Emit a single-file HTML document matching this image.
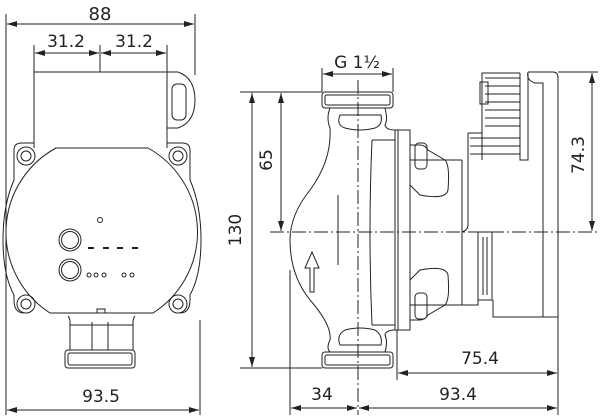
<!DOCTYPE html>
<html><head><meta charset="utf-8"><style>
html,body{margin:0;padding:0;background:#fff;}
svg{display:block}
text{font-family:"DejaVu Sans","Liberation Sans",sans-serif;font-size:17px;fill:#222}
</style></head><body>
<svg width="600" height="417" viewBox="0 0 600 417" xmlns="http://www.w3.org/2000/svg">
<defs>
<marker id="a" viewBox="0 0 10 6" refX="10" refY="3" markerWidth="10" markerHeight="6" orient="auto-start-reverse" markerUnits="userSpaceOnUse"><path d="M0,0 L10,3 L0,6 z" fill="#222"/></marker>
</defs>
<g stroke="#222" stroke-width="1" fill="none">
<!-- LEFT VIEW dims -->
<line x1="6" y1="14" x2="6" y2="415"/>
<line x1="195" y1="14" x2="195" y2="75"/>
<line x1="200" y1="320" x2="200" y2="415"/>
<line x1="7" y1="24" x2="194" y2="24" marker-start="url(#a)" marker-end="url(#a)"/>
<line x1="34" y1="45" x2="34" y2="80"/>
<line x1="167" y1="45" x2="167" y2="80"/>
<line x1="100" y1="45" x2="100" y2="72"/>
<line x1="35" y1="53" x2="99" y2="53" marker-start="url(#a)" marker-end="url(#a)"/>
<line x1="101" y1="53" x2="166" y2="53" marker-start="url(#a)" marker-end="url(#a)"/>
<line x1="7" y1="410" x2="199" y2="410" marker-start="url(#a)" marker-end="url(#a)"/>
<!-- left body -->
<path d="M34,72 H167 V148 M34,72 V148"/>
<path d="M167,72 H178 Q195,78 195,100 Q195,122 178,128 H167"/>
<rect x="172" y="84" width="14" height="36" rx="5"/>
<path d="M14,150 Q14,143 22,143 H34 M167,143 H182 Q190,143 190,150 V180 M14,150 V180 M190,180 Q201,205 201,240 Q201,275 190,295 V300 Q190,313 180,313 M14,180 Q3,205 3,240 Q3,275 14,295 V300 Q14,313 24,313"/>
<circle cx="26" cy="156" r="9"/><circle cx="26" cy="156" r="5"/>
<circle cx="178" cy="156" r="9"/><circle cx="178" cy="156" r="5"/>
<circle cx="26" cy="304" r="9"/><circle cx="26" cy="304" r="5"/>
<circle cx="178" cy="304" r="9"/><circle cx="178" cy="304" r="5"/>
<path d="M56,148 H148 A96,96 0 0 1 153,313 H50 A96,96 0 0 1 56,148 Z"/>
<path d="M97,313 V309 H105 V313"/>
<circle cx="100" cy="220" r="2.5"/>
<circle cx="70" cy="240" r="11"/><circle cx="70" cy="240" r="8.5"/>
<circle cx="70" cy="270" r="11"/><circle cx="70" cy="270" r="8.5"/>
<path d="M88,248h6M103,248h6M117,248h6M132,248h6" stroke-width="2"/>
<circle cx="89" cy="275" r="2"/><circle cx="96" cy="275" r="2"/><circle cx="104" cy="275" r="2"/>
<circle cx="124" cy="275" r="2"/><circle cx="132" cy="275" r="2"/>
<path d="M68,316 Q70,318 70,323 V350 M135,316 Q133,318 133,323 V350 M92,322 V350 M108,322 V350 M70,325 H133"/>
<rect x="65" y="350" width="70" height="18" rx="3"/>
<rect x="68" y="353" width="64" height="12" rx="2"/>
<!-- RIGHT VIEW dims -->
<line x1="322" y1="68" x2="322" y2="92"/>
<line x1="393" y1="68" x2="393" y2="92"/>
<line x1="323" y1="74" x2="392" y2="74" marker-start="url(#a)" marker-end="url(#a)"/>
<line x1="240" y1="92" x2="322" y2="92"/>
<line x1="240" y1="368" x2="322" y2="368"/>
<line x1="252" y1="93" x2="252" y2="367" marker-start="url(#a)" marker-end="url(#a)"/>
<line x1="281" y1="93" x2="281" y2="231" marker-start="url(#a)" marker-end="url(#a)"/>
<line x1="270" y1="232" x2="600" y2="232" stroke-dasharray="14,3,2,3"/>
<line x1="358" y1="80" x2="358" y2="415" stroke-dasharray="14,3,2,3"/>
<line x1="558" y1="72" x2="598" y2="72"/>
<line x1="592" y1="73" x2="592" y2="231" marker-start="url(#a)" marker-end="url(#a)"/>
<line x1="290" y1="270" x2="290" y2="415"/>
<line x1="397" y1="330" x2="397" y2="380"/>
<line x1="558" y1="317" x2="558" y2="415"/>
<line x1="398" y1="373" x2="557" y2="373" marker-start="url(#a)" marker-end="url(#a)"/>
<line x1="291" y1="408" x2="357" y2="408" marker-start="url(#a)" marker-end="url(#a)"/>
<line x1="359" y1="408" x2="557" y2="408" marker-start="url(#a)" marker-end="url(#a)"/>
<!-- pump body -->
<rect x="322" y="92" width="71" height="16" rx="3"/>
<rect x="325" y="95" width="65" height="10" rx="2"/>
<rect x="322" y="352" width="71" height="16" rx="3"/>
<rect x="325" y="355" width="65" height="10" rx="2"/>
<path d="M330,108 Q326,118 330,128 Q332,160 310,190 Q290,215 290,240 Q290,275 310,300 Q332,325 330,340 Q326,348 330,352"/>
<path d="M385,108 Q388,120 385,125 Q386,130 395,130 M385,352 Q388,342 385,335 Q386,330 395,330"/>
<path d="M340,115 Q336,125 345,128 Q360,132 375,128 Q383,125 381,115 Z"/>
<path d="M340,345 Q336,335 345,330 Q360,326 375,330 Q383,335 381,345 Z"/>
<path d="M372,140 Q368,232 372,325 M372,140 H395 M372,325 H395"/>
<line x1="338" y1="195" x2="338" y2="265"/>
<path d="M310,292 V268 H305 L312,252 L319,268 H314 V292 Z"/>
<rect x="395" y="130" width="15" height="200"/>
<line x1="398" y1="130" x2="398" y2="330"/>
<!-- brackets -->
<path d="M410,145 H420 Q425,145 428,150 L445,160 Q450,165 448,190 Q446,200 420,195 L410,185"/>
<rect x="415" y="143" width="12" height="26" rx="4"/>
<path d="M410,320 H420 Q425,320 428,315 L445,305 Q450,300 448,275 Q446,265 420,270 L410,280"/>
<rect x="415" y="293" width="12" height="26" rx="4"/>
<line x1="410" y1="160" x2="462" y2="160"/>
<line x1="410" y1="305" x2="462" y2="305"/>
<!-- motor -->
<path d="M462,160 V305 H478 V232 M468,133 V225 Q468,230 462,232"/>
<rect x="478" y="232" width="14" height="68"/>
<line x1="483" y1="237" x2="483" y2="295"/>
<line x1="487" y1="237" x2="487" y2="295"/>
<path d="M468,133 H482 V73 H520 M482,73 V160"/>
<path d="M485,78h35M485,86h35M485,94h35M485,102h35M485,110h35M485,118h35M485,126h35M470,138h50M470,146h50M470,154h50"/>
<rect x="480" y="82" width="8" height="22"/>
<path d="M528,72 H553 Q558,72 558,78 V317 H493 V300 M528,72 Q526,80 535,83 H543 V317"/>
<path d="M520,73 V160 H528 V72"/>
</g>
<g>
<text x="100" y="20" text-anchor="middle" style="font-size:18px">88</text>
<text x="66" y="47" text-anchor="middle">31.2</text>
<text x="134" y="47" text-anchor="middle">31.2</text>
<text x="101" y="402" text-anchor="middle">93.5</text>
<text x="357" y="68" text-anchor="middle">G 1½</text>
<text x="241" y="230" text-anchor="middle" transform="rotate(-90 241 230)">130</text>
<text x="272" y="160" text-anchor="middle" transform="rotate(-90 272 160)">65</text>
<text x="584" y="155" text-anchor="middle" transform="rotate(-90 584 155)">74.3</text>
<text x="480" y="364" text-anchor="middle">75.4</text>
<text x="322" y="400" text-anchor="middle">34</text>
<text x="458" y="400" text-anchor="middle">93.4</text>
</g>
</svg>
</body></html>
